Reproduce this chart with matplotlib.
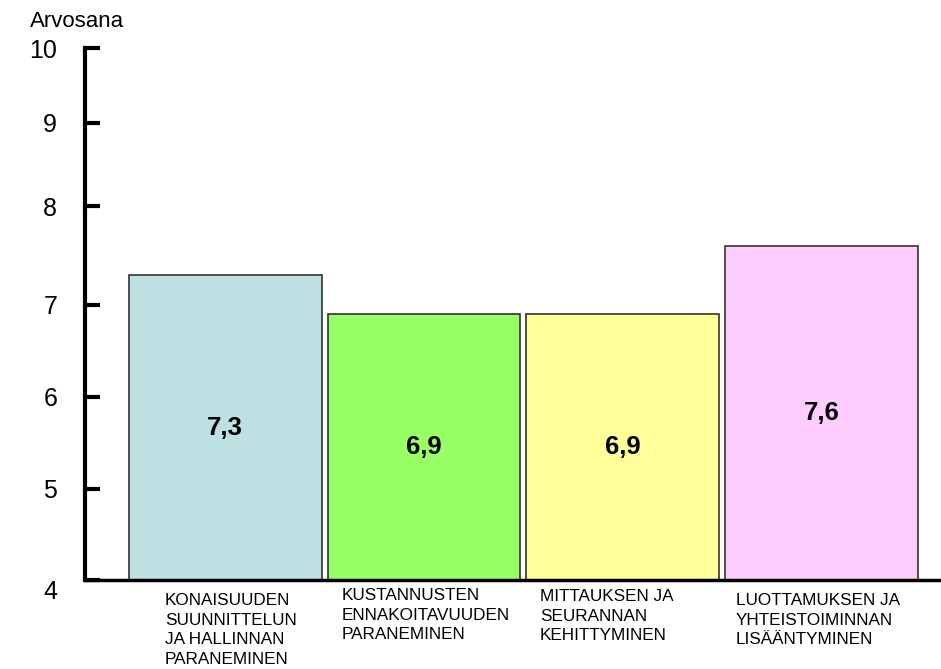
import matplotlib.pyplot as plt
import numpy as np

plt.rcParams['font.family'] = ['Liberation Sans', 'DejaVu Sans']

# data
categories = [
    "KONAISUUDEN\nSUUNNITTELUN\nJA HALLINNAN\nPARANEMINEN",
    "KUSTANNUSTEN\nENNAKOITAVUUDEN\nPARANEMINEN",
    "MITTAUKSEN JA\nSEURANNAN\nKEHITTYMINEN",
    "LUOTTAMUKSEN JA\nYHTEISTOIMINNAN\nLISÄÄNTYMINEN",
]
values = [7.3, 6.9, 6.9, 7.6]
value_labels = ["7,3", "6,9", "6,9", "7,6"]
yticks = [4, 5, 6, 7, 8, 9, 10]
colors = ["#BDE0E3", "#99FF66", "#FFFF99", "#FFCCFF"]

# the original axis is not evenly spaced, map tick values to measured heights
tick_h = [0, 91, 183, 275, 374, 457, 532]

def fwd(v):
    return np.interp(v, yticks, tick_h)

def inv(h):
    return np.interp(h, tick_h, yticks)

W, H = 941, 669
fig = plt.figure(figsize=(W / 100, H / 100), dpi=100)
ax = fig.add_axes([85 / W, (H - 580) / H, (W - 85) / W, (580 - 48) / H])
ax.set_yscale('function', functions=(fwd, inv))

x = np.arange(len(values))
ax.bar(x, [v - 4 for v in values], bottom=4, width=0.97, color=colors,
       edgecolor='#333333', linewidth=1.2, zorder=2)

ax.set_xlim(-0.705, 3.6)
ax.set_ylim(4, 10)
ax.set_yticks(yticks)
ax.set_yticklabels([str(t) for t in yticks], fontsize=18)
ax.set_xticks([])

for s in ['top', 'right']:
    ax.spines[s].set_visible(False)
ax.spines['left'].set_linewidth(3)
ax.spines['bottom'].set_linewidth(2.5)
ax.tick_params(axis='y', direction='in', length=11, width=3, pad=20)

# the "4" sits a little below the baseline in the original
lab4 = ax.get_yticklabels()[0]
lab4.set_va('top')

# value labels in the middle of each bar
for xi, v, lab in zip(x, values, value_labels):
    ymid = inv((fwd(v) + fwd(4)) / 2)
    ax.text(xi, ymid, lab, ha='center', va='center', fontsize=18.5,
            fontweight='bold', zorder=3)

# category labels under the bars
label_pos = [(165, 593), (342, 588), (540, 589), (736, 593)]
for (px, py), cat in zip(label_pos, categories):
    fig.text(px / W, 1 - py / H, cat, ha='left', va='top', fontsize=12.3,
             linespacing=1.38)

fig.text(30 / W, 1 - 11 / H, "Arvosana", ha='left', va='top', fontsize=16)

fig.savefig('out.png', dpi=100)
